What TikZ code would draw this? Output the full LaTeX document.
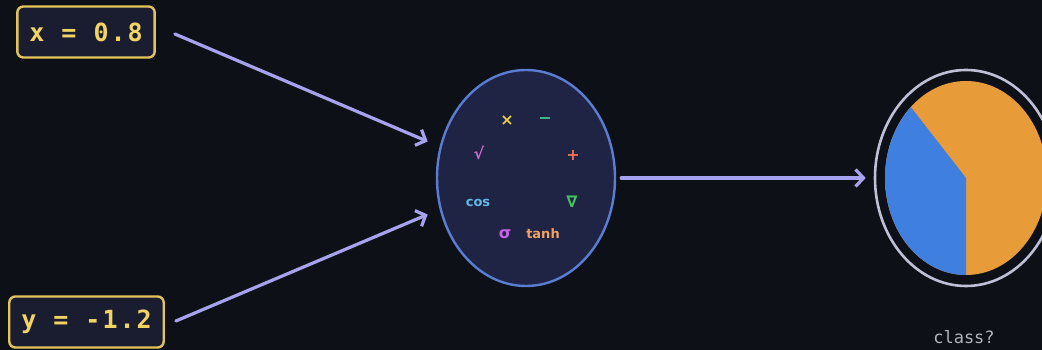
\documentclass[tikz,border=0pt]{standalone}
\usepackage{fontspec}
\setmainfont{DejaVu Sans}
\newfontfamily\monobold[LetterSpace=8]{DejaVu Sans Mono Bold}
\newfontfamily\monoreg{DejaVu Sans Mono}
\newfontfamily\symbold{DejaVu Sans Bold}
\usetikzlibrary{arrows.meta,shapes.geometric}

\definecolor{bgcol}{HTML}{0D1117}
\definecolor{boxfill}{HTML}{1A1C30}
\definecolor{boxedge}{HTML}{E3C35A}
\definecolor{boxtext}{HTML}{F2D463}
\definecolor{flow}{HTML}{A7A2EE}
\definecolor{hubfill}{HTML}{1F2344}
\definecolor{hubedge}{HTML}{5A7DD2}
\definecolor{ringcol}{HTML}{BFC0D6}
\definecolor{pieorange}{HTML}{E89B39}
\definecolor{pieblue}{HTML}{3F7FE0}
\definecolor{labelgray}{HTML}{B0B4BC}
\definecolor{cyel}{HTML}{E9CF48}
\definecolor{cteal}{HTML}{3EBE8E}
\definecolor{cpink}{HTML}{C46FC4}
\definecolor{cred}{HTML}{EE7152}
\definecolor{ccyan}{HTML}{62B8E2}
\definecolor{cgreen}{HTML}{45C35F}
\definecolor{cviolet}{HTML}{C763E6}
\definecolor{ctan}{HTML}{F0A262}

\tikzset{
  inputbox/.style={draw=boxedge, fill=boxfill, line width=2.4pt, rounded corners=6pt,
    text=boxtext, font=\monobold\fontsize{25}{25}\selectfont,
    inner xsep=12pt, minimum height=51pt},
  flowarrow/.style={draw=flow, line width=3.2pt, line cap=round, line join=round,
    -{Straight Barb[length=8pt,width=17pt,line width=3.2pt]}},
  opword/.style={font=\symbold\fontsize{13}{13}\selectfont, inner sep=0pt},
  opglyph/.style={font=\symbold\fontsize{16}{16}\selectfont, inner sep=0pt}
}

\begin{document}
\begin{tikzpicture}[x=1pt,y=1pt]
  % canvas
  \fill[bgcol] (0,0) rectangle (1042,350);
  \useasboundingbox (0,0) rectangle (1042,350);
  \clip (0,0) rectangle (1042,350);

  % inputs
  \node[inputbox] (bx) at (86,318) {x = 0.8};
  \node[inputbox] (by) at (86.5,28) {y = -1.2};

  % function hub
  \node[ellipse, draw=hubedge, fill=hubfill, line width=2.4pt,
        minimum width=178pt, minimum height=216pt, inner sep=0pt] (hub) at (526,172) {};
  \node[opglyph, text=cyel]    (opmul)  at (507,229) {×};
  \node[opglyph, text=cteal]   (opsub)  at (545,229) {−};
  \node[opglyph, text=cpink]   (opsqrt) at (479,197) {√};
  \node[opglyph, text=cred]    (opadd)  at (573,195) {+};
  \node[opword,  text=ccyan]   (opcos)  at (478,147) {cos};
  \node[opglyph, text=cgreen]  (opnab)  at (572,148) {∇};
  \node[opglyph, text=cviolet] (opsig)  at (505,116) {σ};
  \node[opword,  text=ctan]    (optanh) at (543,116) {tanh};

  % output pie
  \node[ellipse, draw=ringcol, line width=2.6pt,
        minimum width=182pt, minimum height=216pt, inner sep=0pt] (ring) at (966,172) {};
  \fill[pieorange] (966,172) ellipse[x radius=81, y radius=97];
  \fill[pieblue] (966,172) -- (966,75)
     arc[start angle=270, end angle=133, x radius=81, y radius=97] -- cycle;
  \node[font=\monoreg\fontsize{17}{17}\selectfont, text=labelgray] (cls) at (964,13) {class?};

  % connectors
  \draw[flowarrow, shorten >=13pt] ([xshift=19pt,yshift=-2pt]bx.east) -- (hub.160);
  \draw[flowarrow, shorten >=13pt] ([xshift=11pt,yshift=1pt]by.east) -- (hub.200);
  \draw[flowarrow, shorten <=5pt, shorten >=8pt] (hub.east) -- (ring.west);
\end{tikzpicture}
\end{document}
